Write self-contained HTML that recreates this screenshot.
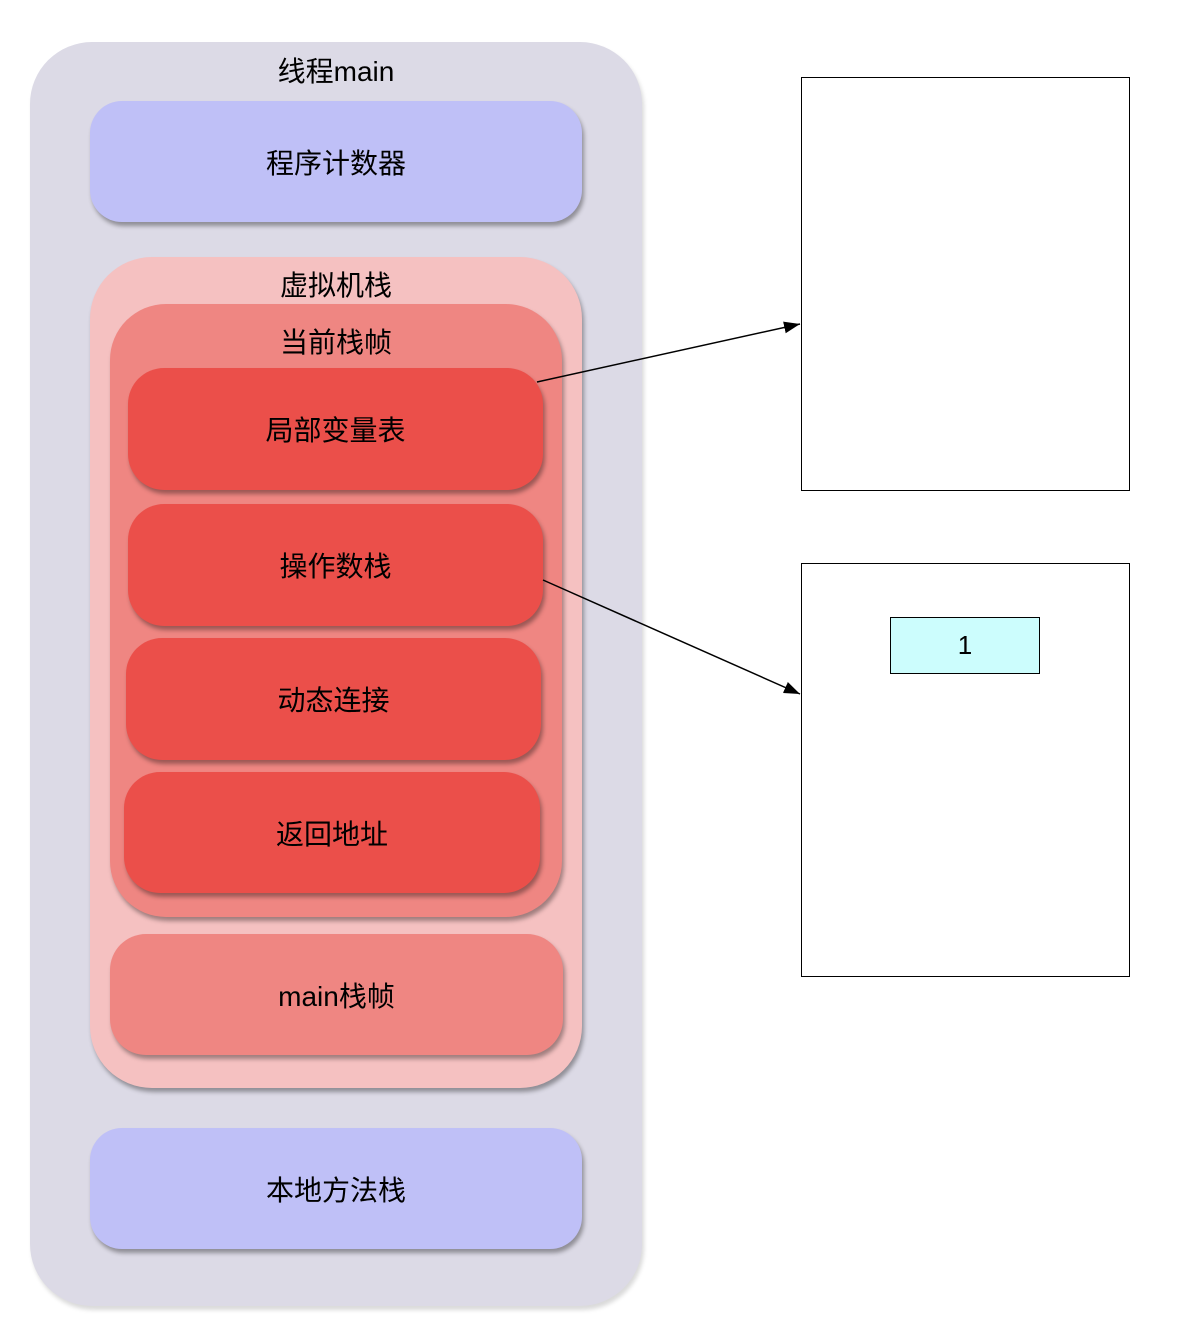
<!DOCTYPE html>
<html><head><meta charset="utf-8"><style>
body{margin:0;width:1195px;height:1330px;background:#fff;position:relative;overflow:hidden;font-family:"Liberation Sans","Noto Sans CJK SC",sans-serif;}
.b{position:absolute;box-sizing:border-box;display:flex;align-items:center;justify-content:center;font-size:28px;color:#000;box-shadow:2px 4px 4px rgba(0,0,0,0.35);}
.t{position:absolute;width:100%;left:0;text-align:center;font-size:28px;}
.r{position:absolute;border:1.5px solid #000;box-sizing:border-box;background:#fff;}
</style></head><body>
<div class="b" style="left:30px;top:42px;width:612px;height:1264px;border-radius:62px;background:#dcdae6;box-shadow:2px 4px 4px rgba(0,0,0,0.15);"><div class="t" style="top:8px">线程main</div></div>
<div class="b" style="left:90px;top:101px;width:492px;height:121px;border-radius:32px;background:#bfc0f7;">程序计数器</div>
<div class="b" style="left:90px;top:257px;width:492px;height:831px;border-radius:62px;background:#f5c1c1;"><div class="t" style="top:7px">虚拟机栈</div></div>
<div class="b" style="left:110px;top:304px;width:452px;height:613px;border-radius:56px;background:#ef8682;"><div class="t" style="top:17px">当前栈帧</div></div>
<div class="b" style="left:128px;top:368px;width:415px;height:122px;border-radius:36px;background:#eb4f4a;">局部变量表</div>
<div class="b" style="left:128px;top:504px;width:415px;height:122px;border-radius:36px;background:#eb4f4a;">操作数栈</div>
<div class="b" style="left:126px;top:638px;width:415px;height:122px;border-radius:36px;background:#eb4f4a;">动态连接</div>
<div class="b" style="left:124px;top:772px;width:416px;height:121px;border-radius:36px;background:#eb4f4a;">返回地址</div>
<div class="b" style="left:110px;top:934px;width:453px;height:121px;border-radius:36px;background:#ef8682;">main栈帧</div>
<div class="b" style="left:90px;top:1128px;width:492px;height:121px;border-radius:32px;background:#bfc0f7;">本地方法栈</div>
<div class="r" style="left:801px;top:77px;width:329px;height:414px;"></div>
<div class="r" style="left:801px;top:563px;width:329px;height:414px;"></div>
<div class="r" style="left:890px;top:617px;width:150px;height:57px;background:#ccfdfd;display:flex;align-items:center;justify-content:center;font-size:26px;">1</div>
<svg style="position:absolute;left:0;top:0" width="1195" height="1330">
<defs><marker id="a" markerWidth="16" markerHeight="12" refX="16" refY="6" orient="auto" markerUnits="userSpaceOnUse" viewBox="0 0 16 12"><path d="M0,0 L16,6 L0,12 Z" fill="#000"/></marker></defs>
<line x1="537" y1="382" x2="800" y2="324" stroke="#000" stroke-width="1.5" marker-end="url(#a)"/>
<line x1="543" y1="580" x2="800" y2="694" stroke="#000" stroke-width="1.5" marker-end="url(#a)"/>
</svg>
</body></html>
